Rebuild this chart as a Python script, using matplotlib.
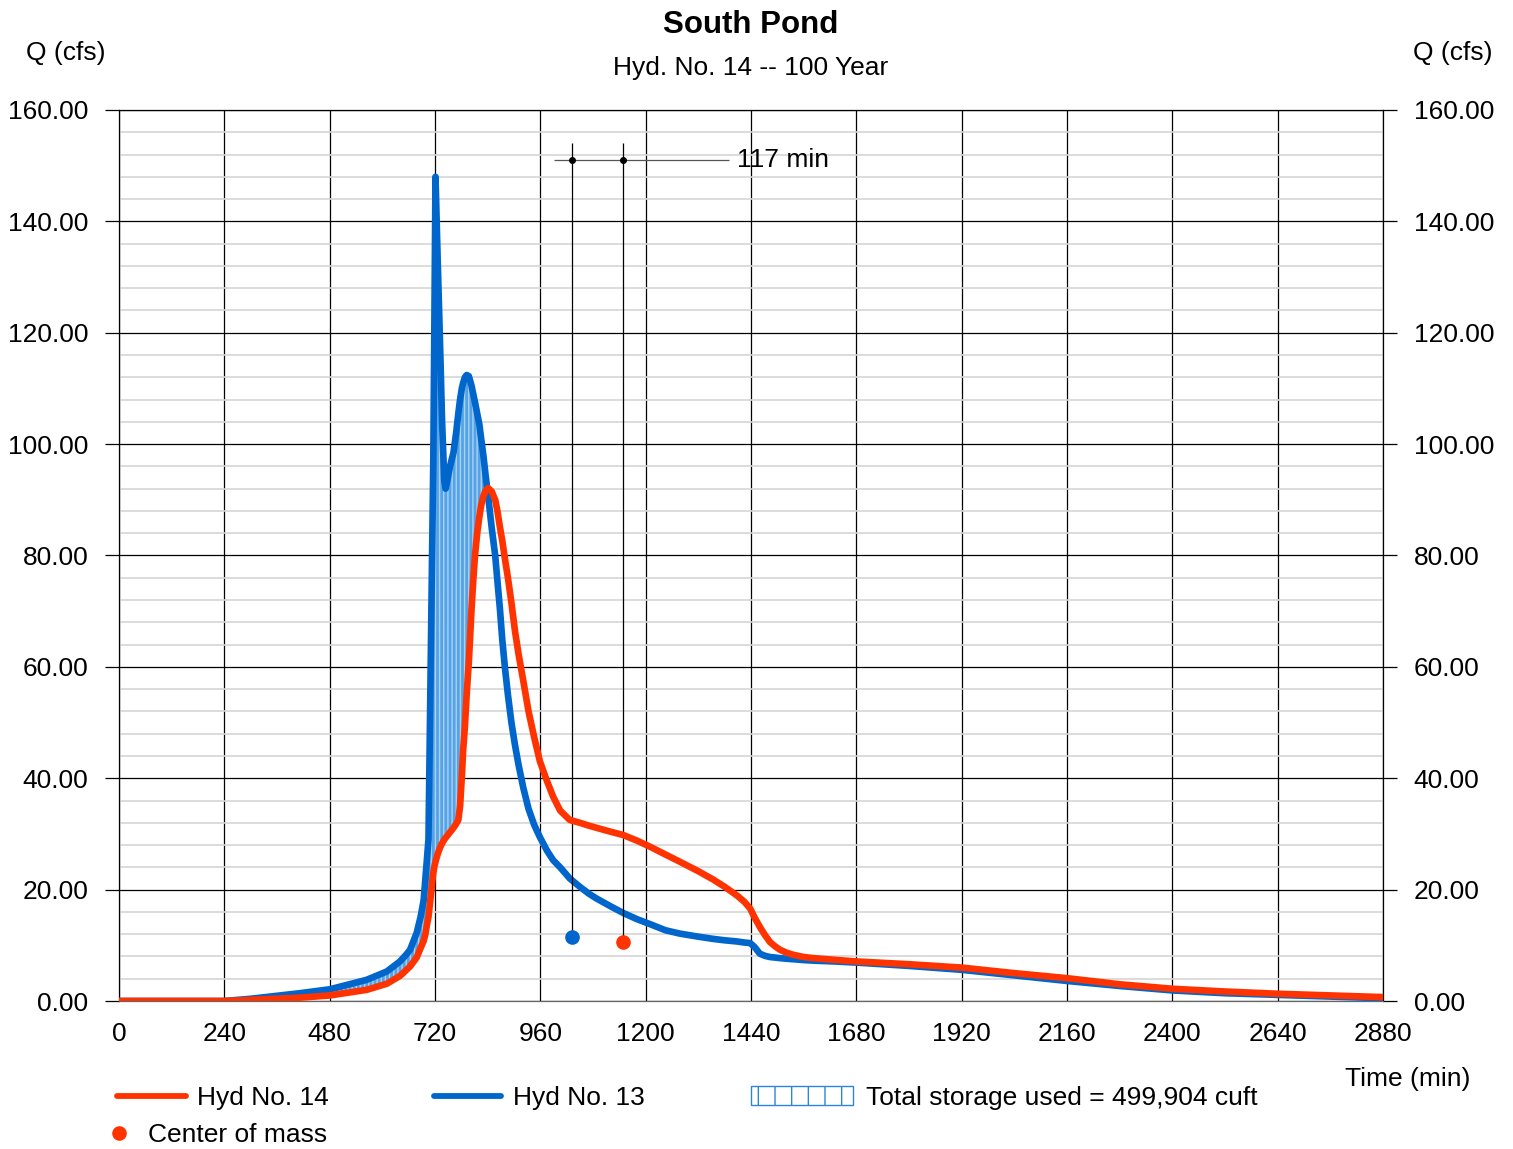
import numpy as np
import matplotlib
matplotlib.use("Agg")
import matplotlib.pyplot as plt
from matplotlib.lines import Line2D
from matplotlib.patches import Patch

plt.rcParams['font.family'] = ['Liberation Sans', 'DejaVu Sans']

# time (min) and flows (cfs)
time_min = [0, 240, 300, 412, 480, 564, 610, 640, 655, 663, 678, 687, 694, 698, 701,
            705, 710, 714, 716, 718, 721, 726, 731, 736, 741, 744, 748, 754, 762, 768,
            773, 777, 781, 784, 788, 792, 797, 803, 807, 811, 816, 821, 825, 830, 835,
            841, 849, 857, 862, 868, 873, 879, 886, 894, 902, 910, 921, 933, 946, 959,
            975, 989, 1005, 1027, 1050, 1070, 1088, 1120, 1149, 1180, 1210, 1245, 1278, 1320, 1354,
            1380, 1407, 1425, 1438, 1448, 1460, 1472, 1483, 1495, 1506, 1520, 1536, 1560, 1582, 1630,
            1680, 1800, 1920, 2040, 2160, 2280, 2400, 2520, 2640, 2760, 2880]

# Hyd No. 13 (inflow)
hyd13 = [0, 0, 0.4, 1.4, 2.1, 3.8, 5.3, 7.1, 8.4, 9.2, 12.2, 15.1, 18.1, 22, 25,
         29, 60, 85, 97, 117, 148, 133, 119, 104, 93.5, 92, 93.5, 96, 98.5, 102,
         105.5, 108, 110, 111, 112, 112.4, 112.2, 110.5, 109, 107.5, 105.5, 103.5, 101, 98, 94.5,
         90.6, 85, 80, 75.5, 70.2, 65, 60, 55, 50, 46, 42.5, 38.3, 34.5, 31.6, 29.4,
         27, 25.3, 24.0, 22, 20.5, 19.3, 18.4, 17, 15.8, 14.7, 13.8, 12.7, 12.1, 11.55, 11.15,
         10.9, 10.7, 10.5, 10.4, 9.7, 8.5, 8.1, 7.9, 7.8, 7.7, 7.6, 7.5, 7.35, 7.25, 7.1,
         6.9, 6.3, 5.6, 4.6, 3.6, 2.7, 1.9, 1.4, 1.1, 0.8, 0.5]

# Hyd No. 14 (pond outflow)
hyd14 = [0, 0, 0.2, 0.6, 1.0, 2.0, 3.1, 4.5, 5.6, 6.2, 7.8, 9.5, 10.8, 12, 13.5,
         15.1, 18.7, 21.7, 23, 24, 25, 26.4, 27.5, 28.3, 29.0, 29.3, 29.7, 30.3, 31.1, 31.8,
         32.5, 35, 40.3, 45, 49.3, 55, 61, 70.2, 75.5, 80, 84, 87, 89, 90.6, 91.6,
         92.1, 91.5, 90, 88, 85, 82.7, 79.5, 76, 71.5, 66.5, 62.4, 57.5, 52, 47.3, 43,
         39.5, 36.7, 34.2, 32.5, 32.0, 31.5, 31.1, 30.4, 29.8, 28.8, 27.7, 26.3, 25, 23.3, 21.8,
         20.5, 19, 17.8, 16.6, 15, 13.3, 11.8, 10.6, 9.8, 9.2, 8.7, 8.3, 7.9, 7.7, 7.4,
         7.1, 6.6, 6.0, 5.0, 4.1, 3.0, 2.2, 1.7, 1.3, 1.0, 0.7]

com_time = [1032, 1149]   # center of mass, Hyd 13 / Hyd 14
com_flow = [11.5, 10.6]
storage_cuft = 499904

x_ticks = list(range(0, 2881, 240))
y_ticks = list(range(0, 161, 20))

RED = '#ff3300'
BLUE = '#0066cc'
FS = 19

t = np.array(time_min)
q13 = np.array(hyd13)
q14 = np.array(hyd14)

fig = plt.figure(figsize=(15.13, 11.49), dpi=100)
ax = fig.add_axes([0.0787, 0.1288, 0.8354, 0.7755])

ax.set_xlim(0, 2880)
ax.set_ylim(0, 160)

# grid
ax.set_xticks(x_ticks)
ax.set_yticks(y_ticks)
ax.set_yticks(np.arange(0, 161, 4), minor=True)
ax.grid(which='minor', axis='y', color='#d6d6d6', lw=1.2)
ax.grid(which='major', axis='both', color='black', lw=0.9)
ax.set_axisbelow(True)
for s in ax.spines.values():
    s.set_linewidth(0.9)
ax.spines['bottom'].set_color('#666666')

ax.yaxis.set_major_formatter(matplotlib.ticker.FormatStrFormatter('%.2f'))
ax.tick_params(axis='y', which='major', left=True, right=True, labelleft=True, labelright=True,
               length=10, width=0.9, direction='out', labelsize=FS, pad=12)
ax.tick_params(axis='y', which='minor', left=False, right=False)
ax.tick_params(axis='x', length=0, labelsize=FS, pad=15)

# storage (inflow above outflow)
ax.fill_between(t, q14, q13, where=q13 > q14, interpolate=True,
                facecolor='#55a3e6', edgecolor='#a8d2f4', hatch='||||', linewidth=0, zorder=2)

ax.plot(t, q13, color=BLUE, lw=4.8, solid_capstyle='round', solid_joinstyle='round', zorder=3)
ax.plot(t, q14, color=RED, lw=4.8, solid_capstyle='round', solid_joinstyle='round', zorder=4)

# center of mass markers and lag
ax.vlines(com_time, com_flow, 154, color='black', lw=0.9, zorder=3)
ax.plot(com_time[0], com_flow[0], 'o', color=BLUE, ms=9.5, zorder=5)
ax.plot(com_time[1], com_flow[1], 'o', color=RED, ms=9.5, zorder=5)
ax.hlines(151, com_time[0] - 40, com_time[1] + 240, color='#555555', lw=0.9, zorder=3)
ax.plot(com_time, [151, 151], 'o', color='black', ms=4, zorder=5)
ax.text(com_time[1] + 259, 151, f"{com_time[1] - com_time[0]} min", fontsize=FS,
        va='center', ha='left', zorder=6)

# titles and axis labels
fig.text(0.496, 0.978, 'South Pond', fontsize=22.5, fontweight='bold', ha='center', va='center')
fig.text(0.496, 0.941, 'Hyd. No. 14 -- 100 Year', fontsize=FS, ha='center', va='center')
fig.text(0.0436, 0.954, 'Q (cfs)', fontsize=FS, ha='center', va='center')
fig.text(0.9603, 0.954, 'Q (cfs)', fontsize=FS, ha='center', va='center')
fig.text(0.9307, 0.061, 'Time (min)', fontsize=FS, ha='center', va='center')

# legend entries
kw = dict(frameon=False, fontsize=FS, loc='center left', borderpad=0, borderaxespad=0)
fig.legend(handles=[Line2D([], [], color=RED, lw=4.2, solid_capstyle='round')],
           labels=['Hyd No. 14'], bbox_to_anchor=(0.0773, 0.0444),
           handlelength=2.6, handletextpad=0.45, **kw)
fig.legend(handles=[Line2D([], [], color=BLUE, lw=4.2, solid_capstyle='round')],
           labels=['Hyd No. 13'], bbox_to_anchor=(0.2868, 0.0444),
           handlelength=2.55, handletextpad=0.45, **kw)
fig.legend(handles=[Patch(facecolor='white', edgecolor='#2a85dd', hatch='|', lw=1.0)],
           labels=[f'Total storage used = {storage_cuft:,} cuft'],
           bbox_to_anchor=(0.4965, 0.0444),
           handlelength=3.85, handleheight=0.75, handletextpad=0.5, **kw)
fig.legend(handles=[Line2D([], [], color=RED, marker='o', ms=9.5, lw=0)],
           labels=['Center of mass'], bbox_to_anchor=(0.0745, 0.0122),
           handlelength=0.5, handletextpad=0.85, **kw)

fig.savefig('out.png', dpi=100)
